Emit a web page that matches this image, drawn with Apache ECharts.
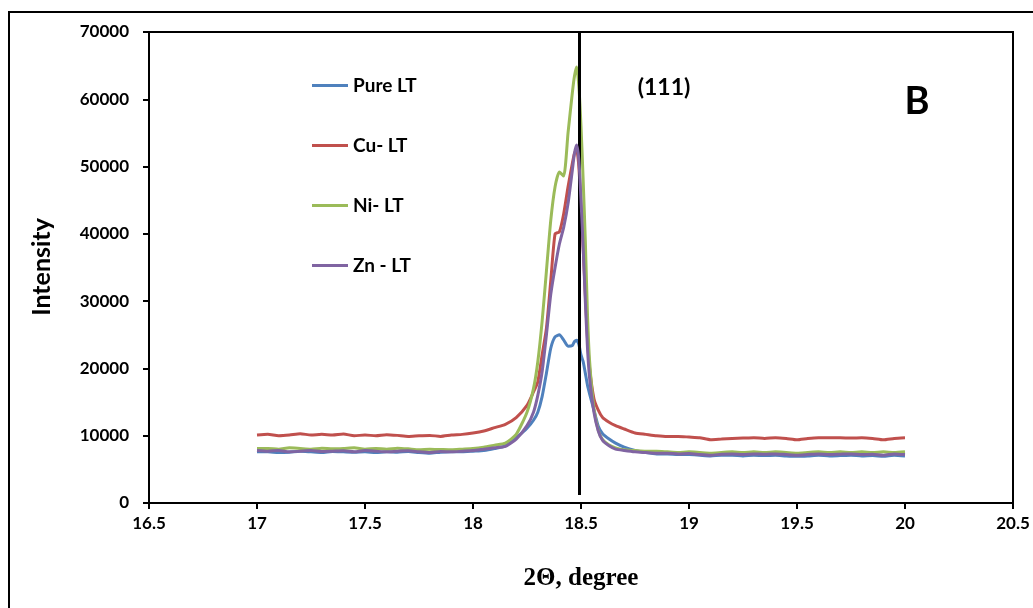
<!DOCTYPE html>
<html>
<head>
<meta charset="utf-8">
<script src="https://cdn.jsdelivr.net/npm/echarts@6/dist/echarts.min.js"></script>
<style>
html,body{margin:0;padding:0;background:#fff;}
#chart{width:1033px;height:608px;}
</style>
</head>
<body>
<div id="chart"></div>
<script>
// 2-theta positions (degree)
const xs = [17.00,17.05,17.10,17.15,17.20,17.25,17.30,17.35,17.40,17.45,17.50,17.55,17.60,17.65,17.70,17.75,17.80,17.85,17.90,17.95,18.00,18.05,18.10,
  18.15,18.20,18.25,18.28,18.30,18.32,18.34,18.36,18.38,18.40,18.42,18.44,18.46,18.47,18.48,18.49,18.50,18.51,18.52,18.53,18.54,18.56,18.58,18.60,18.63,18.66,18.70,
  18.75,18.80,18.85,18.90,18.95,19.00,19.05,19.10,19.15,19.20,19.25,19.30,19.35,19.40,19.45,19.50,19.55,19.60,19.65,19.70,19.75,19.80,19.85,19.90,19.95,20.00];

const pureLT = [7600,7600,7500,7550,7700,7600,7500,7650,7600,7550,7600,7500,7600,7550,7650,7500,7400,7550,7600,7600,7700,7800,8100,
  8500,9700,11100,12300,13500,15800,19300,23000,24700,25000,24200,23300,23400,24000,24200,23600,22000,21000,19300,17500,16200,13800,11400,10300,9500,8900,8300,
  7800,7500,7300,7300,7200,7200,7100,7000,7100,7100,7000,7100,7050,7100,7000,6950,7000,7100,7000,7050,7100,7000,7050,6950,7100,7000];

const cuLT = [10100,10200,10000,10100,10300,10100,10200,10100,10250,10000,10100,10000,10150,10050,9900,10000,10050,9900,10100,10200,10400,10700,11200,
  11700,12700,14500,16500,18000,22000,26000,33000,40000,40300,43000,47000,50500,52000,52500,50000,44000,38000,31000,24500,20000,15500,13800,12700,12000,11500,11000,
  10400,10200,10000,9900,9900,9800,9700,9400,9500,9600,9650,9700,9600,9700,9600,9400,9600,9700,9700,9700,9650,9700,9600,9400,9600,9700];

const niLT = [8100,8100,8000,8200,8100,8000,8150,8050,8100,8200,8000,8100,8000,8150,8050,7900,8000,7950,7900,8000,8100,8300,8600,
  8900,10200,13500,17000,21000,27000,34500,42000,47000,49200,48600,55000,61000,63500,64800,62000,56000,48000,39000,28000,21000,14000,10800,9400,8600,8200,7900,
  7800,7700,7700,7600,7500,7600,7500,7400,7500,7600,7500,7600,7500,7600,7500,7400,7500,7600,7500,7600,7500,7600,7500,7600,7500,7600];

const znLT = [7800,7700,7800,7600,7700,7800,7650,7700,7750,7600,7800,7700,7600,7700,7750,7600,7500,7650,7600,7700,7800,8000,8200,
  8400,9500,11500,13500,16000,19500,25000,31000,35000,38500,41000,44500,49500,52000,53200,51000,45000,38000,30000,23000,18500,13500,10700,9300,8500,8000,7800,
  7600,7500,7400,7400,7300,7350,7200,7100,7250,7300,7200,7300,7250,7300,7200,7100,7200,7300,7200,7250,7300,7200,7250,7100,7300,7200];

const seriesNames = ['Pure LT','Cu- LT','Ni- LT','Zn - LT'];
const seriesValues = [pureLT, cuLT, niLT, znLT];
const seriesColors = ['#4F81BD','#C0504D','#9BBB59','#8064A2'];

const peakLineX = 18.49;
const peakLineY = [1200, 70000];
const peakLabel = '(111)';
const panelLabel = 'B';

const chart = echarts.init(document.getElementById('chart'), null, {renderer:'canvas'});
const font = 'Lato, "Open Sans", sans-serif';

const series = seriesNames.map((name, k) => ({
  name: name,
  type: 'line',
  data: xs.map((x, i) => [x, seriesValues[k][i]]),
  smooth: 0.2,
  symbol: 'none',
  showSymbol: false,
  lineStyle: {width: 3, color: seriesColors[k]},
  itemStyle: {color: seriesColors[k]},
  z: 2 + k
}));
series.push({
  name: 'peak',
  type: 'line',
  data: [],
  z: 10,
  markLine: {
    silent: true,
    symbol: ['none','none'],
    label: {show: false},
    lineStyle: {color: '#000', width: 3, type: 'solid'},
    data: [[{coord: [peakLineX, peakLineY[0]]}, {coord: [peakLineX, peakLineY[1]]}]]
  }
});

chart.setOption({
  animation: false,
  backgroundColor: '#fff',
  grid: {left: 149, top: 32, right: 20, bottom: 105, show: true, borderColor: '#000', borderWidth: 2},
  legend: {
    data: seriesNames,
    orient: 'vertical',
    left: 312,
    top: 76,
    padding: 0,
    itemWidth: 36,
    itemHeight: 14,
    itemGap: 41,
    icon: 'path://M0,0 L36,0 L36,3 L0,3 Z',
    textStyle: {fontFamily: font, fontWeight: 'bold', fontSize: 19, color: '#000'}
  },
  xAxis: {
    type: 'value',
    min: 16.5, max: 20.5, interval: 0.5,
    axisLine: {show: true, lineStyle: {color: '#000', width: 2}},
    axisTick: {show: true, inside: false, length: 6, lineStyle: {color: '#000', width: 2}},
    axisLabel: {margin: 12, fontFamily: font, fontWeight: 'bold', fontSize: 17, color: '#000'},
    splitLine: {show: false}
  },
  yAxis: {
    type: 'value',
    min: 0, max: 70000, interval: 10000,
    axisLine: {show: true, lineStyle: {color: '#000', width: 2}},
    axisTick: {show: true, inside: false, length: 6, lineStyle: {color: '#000', width: 2}},
    axisLabel: {margin: 20, fontFamily: font, fontWeight: 'bold', fontSize: 17, color: '#000', formatter: v => String(v)},
    splitLine: {show: false}
  },
  graphic: [
    {type: 'rect', shape: {x: 9, y: 12, width: 1040, height: 620}, style: {fill: 'none', stroke: '#000', lineWidth: 2}, z: -1, silent: true},
    {type: 'text', x: 42, y: 267, rotation: Math.PI/2, style: {text: 'Intensity', font: 'bold 25px ' + font, fill: '#000', textAlign: 'center', textVerticalAlign: 'middle'}},
    {type: 'text', x: 581, y: 579, style: {text: '2\u0398, degree', font: 'bold 25px "Liberation Serif", "DejaVu Serif", serif', fill: '#000', textAlign: 'center', textVerticalAlign: 'middle'}},
    {type: 'text', x: 664, y: 88, style: {text: peakLabel, font: 'bold 23px ' + font, fill: '#000', textAlign: 'center', textVerticalAlign: 'middle'}},
    {type: 'text', x: 917, y: 102, style: {text: panelLabel, font: 'bold 38px ' + font, fill: '#000', textAlign: 'center', textVerticalAlign: 'middle'}}
  ],
  series: series
});
</script>
</body>
</html>
